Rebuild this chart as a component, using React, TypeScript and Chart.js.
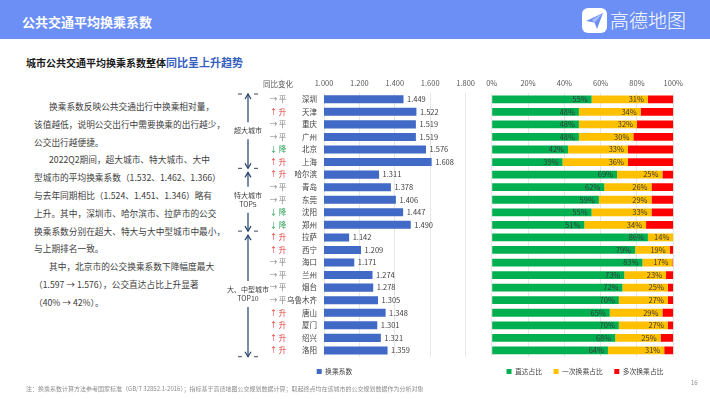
import React, { useEffect, useRef } from 'react';
import { Chart, registerables } from 'chart.js';

Chart.register(...registerables);

const FONT = '"Noto Sans CJK SC", "Noto Sans", sans-serif';
Chart.defaults.font.family = FONT;

// ---------- data ----------
const cities = ['深圳', '天津', '重庆', '广州', '北京', '上海', '哈尔滨', '青岛', '东莞', '沈阳', '郑州', '拉萨', '西宁', '海口', '兰州', '烟台', '乌鲁木齐', '唐山', '厦门', '绍兴', '洛阳'];
const changes = ['平', '升', '平', '平', '降', '升', '升', '平', '平', '降', '降', '升', '升', '平', '平', '平', '平', '升', '升', '升', '升'];
const coefficients = [1.449, 1.522, 1.519, 1.519, 1.576, 1.608, 1.311, 1.378, 1.406, 1.447, 1.490, 1.142, 1.209, 1.171, 1.274, 1.278, 1.305, 1.348, 1.301, 1.321, 1.359];
const directShare = [55, 48, 48, 48, 42, 39, 69, 62, 59, 55, 51, 86, 79, 83, 73, 72, 70, 65, 70, 68, 64];
const oneTransferShare = [31, 34, 32, 30, 33, 36, 25, 26, 29, 33, 34, 14, 19, 16.5, 23, 25, 27, 29, 27, 25, 31];
const multiTransferShare = [14, 18, 20, 22, 25, 25, 6, 12, 12, 12, 15, 0, 2, 0.5, 4, 3, 3, 6, 3, 7, 5];
const groupLabels = [['超大城市'], ['特大城市', 'TOP5'], ['大、中型城市', 'TOP10']];
const groupSizes = [6, 5, 10];
const coefTicks = { min: 1.0, max: 1.8, step: 0.2 };
const shareTicks = { min: 0, max: 100, step: 20 };
const seriesNames = ['换乘系数', '直达占比', '一次换乘占比', '多次换乘占比'];

const BLUE = '#4169C6';
const GREEN = '#00B050';
const YELLOW = '#FFC000';
const RED = '#FF0000';

const changeArrow: Record<string, string> = { '平': '→', '升': '↑', '降': '↓' };
const changeColor: Record<string, string> = { '平': '#808080', '升': '#E53935', '降': '#2EA35A' };

// ---------- plugins ----------
const coefPlugin = {
  id: 'coefAnnot',
  afterDraw(chart: any) {
    const { ctx, chartArea } = chart;
    const ys = chart.scales.y;
    ctx.save();
    const meta = chart.getDatasetMeta(0);
    ctx.font = `7.5px ${FONT}`;
    ctx.fillStyle = '#404040';
    ctx.textAlign = 'left';
    ctx.textBaseline = 'middle';
    meta.data.forEach((bar: any, i: number) => {
      ctx.fillText(coefficients[i].toFixed(3), bar.x + 3.5, bar.y);
    });
    const cx = chartArea.left - 46;
    ctx.textAlign = 'center';
    ctx.fillStyle = '#595959';
    ctx.fillText('同比变化', cx, chartArea.top - 9);
    changes.forEach((c, i) => {
      ctx.fillStyle = changeColor[c];
      ctx.fillText(changeArrow[c] + ' ' + c, cx, ys.getPixelForValue(i));
    });
    const bx = chartArea.left - 76;
    const half = (ys.getPixelForValue(1) - ys.getPixelForValue(0)) / 2;
    let start = 0;
    ctx.strokeStyle = '#24426A';
    ctx.lineWidth = 1.2;
    const boundaries: number[] = [];
    groupSizes.forEach((size, g) => {
      const top = ys.getPixelForValue(start) - half + (g === 0 ? 1 : 4);
      const bottom = ys.getPixelForValue(start + size - 1) + half;
      if (g === 0) boundaries.push(top);
      boundaries.push(bottom);
      const mid = (ys.getPixelForValue(start) - half + bottom) / 2;
      const lines = groupLabels[g];
      const lh = 9;
      const textTop = mid - (lines.length * lh) / 2;
      const textBottom = mid + (lines.length * lh) / 2;
      ctx.beginPath();
      ctx.moveTo(bx, top); ctx.lineTo(bx, textTop - 4);
      ctx.moveTo(bx, textBottom + 4); ctx.lineTo(bx, bottom);
      ctx.stroke();
      ctx.beginPath();
      ctx.moveTo(bx - 3, top + 5); ctx.lineTo(bx, top); ctx.lineTo(bx + 3, top + 5);
      ctx.moveTo(bx - 3, bottom - 5); ctx.lineTo(bx, bottom); ctx.lineTo(bx + 3, bottom - 5);
      ctx.stroke();
      ctx.fillStyle = '#404040';
      ctx.font = `7px ${FONT}`;
      lines.forEach((t, k) => ctx.fillText(t, bx, textTop + lh * k + lh / 2));
      start += size;
    });
    ctx.strokeStyle = '#3A4A60';
    ctx.lineWidth = 1;
    boundaries.forEach((yy) => {
      ctx.beginPath();
      ctx.moveTo(bx - 10, yy); ctx.lineTo(bx - 6, yy);
      ctx.moveTo(bx + 6, yy); ctx.lineTo(bx + 10, yy);
      ctx.stroke();
    });
    ctx.restore();
  },
};

const sharePlugin = {
  id: 'shareLabels',
  afterDatasetsDraw(chart: any) {
    const { ctx } = chart;
    ctx.save();
    ctx.font = `7.5px ${FONT}`;
    ctx.fillStyle = '#3A3A3A';
    ctx.textAlign = 'right';
    ctx.textBaseline = 'middle';
    [0, 1].forEach((di) => {
      const meta = chart.getDatasetMeta(di);
      const vals = chart.data.datasets[di].data as number[];
      meta.data.forEach((el: any, i: number) => {
        ctx.fillText(Math.round(vals[i]) + '%', el.x - 4, el.y);
      });
    });
    ctx.restore();
  },
};

const legendOpts = {
  position: 'bottom' as const,
  labels: { boxWidth: 5, boxHeight: 5, padding: 11.5, font: { size: 6.8 }, color: '#404040' },
};

const CANVAS_TOP = 74;
const CANVAS_H = 311;

function CoefChart() {
  const ref = useRef<HTMLCanvasElement>(null);
  useEffect(() => {
    const chart = new Chart(ref.current!, {
      type: 'bar',
      data: {
        labels: cities,
        datasets: [{ label: seriesNames[0], data: coefficients, backgroundColor: BLUE, barPercentage: 0.64, categoryPercentage: 1 }],
      },
      options: {
        indexAxis: 'y',
        animation: false,
        responsive: false,
        layout: { padding: { right: 9, left: 0, top: 0, bottom: 0 } },
        scales: {
          x: {
            position: 'top',
            min: coefTicks.min,
            max: coefTicks.max,
            ticks: { stepSize: coefTicks.step, callback: (v: any) => Number(v).toFixed(3), color: '#595959', font: { size: 7.5 }, padding: 5 },
            grid: { color: '#E6E6E6', drawTicks: false },
            border: { display: false },
            afterFit: (s: any) => { s.height = 19; },
          },
          y: {
            ticks: { color: '#404040', font: { size: 7.5 }, padding: 7 },
            grid: { display: false, drawTicks: false },
            border: { display: false },
            afterFit: (s: any) => { s.width = 126; },
          },
        },
        plugins: { legend: legendOpts, tooltip: { enabled: false } },
      },
      plugins: [coefPlugin],
    } as any);
    return () => chart.destroy();
  }, []);
  return <canvas ref={ref} width={282} height={CANVAS_H} style={{ position: 'absolute', left: 198, top: CANVAS_TOP, width: 282, height: CANVAS_H }} />;
}

function ShareChart() {
  const ref = useRef<HTMLCanvasElement>(null);
  useEffect(() => {
    const chart = new Chart(ref.current!, {
      type: 'bar',
      data: {
        labels: cities,
        datasets: [
          { label: seriesNames[1], data: directShare, backgroundColor: GREEN },
          { label: seriesNames[2], data: oneTransferShare, backgroundColor: YELLOW },
          { label: seriesNames[3], data: multiTransferShare, backgroundColor: RED },
        ].map((d) => ({ ...d, barPercentage: 0.62, categoryPercentage: 1 })),
      },
      options: {
        indexAxis: 'y',
        animation: false,
        responsive: false,
        layout: { padding: 0 },
        scales: {
          x: {
            position: 'top',
            stacked: true,
            min: shareTicks.min,
            max: shareTicks.max,
            ticks: { stepSize: shareTicks.step, callback: (v: any) => v + '%', color: '#595959', font: { size: 7.5 }, padding: 5 },
            grid: { color: '#E6E6E6', drawTicks: false },
            border: { display: false },
            afterFit: (s: any) => { s.height = 19; },
          },
          y: {
            stacked: true,
            ticks: { display: false },
            grid: { display: false, drawTicks: false },
            border: { display: false },
            afterFit: (s: any) => { s.width = 29.7; },
          },
          yRight: {
            type: 'linear',
            position: 'right',
            ticks: { display: false },
            grid: { display: false, drawTicks: false },
            border: { display: false },
            afterFit: (s: any) => { s.width = 34.7; },
          },
        },
        plugins: { legend: legendOpts, tooltip: { enabled: false } },
      },
      plugins: [sharePlugin],
    } as any);
    return () => chart.destroy();
  }, []);
  return <canvas ref={ref} width={246} height={CANVAS_H} style={{ position: 'absolute', left: 462, top: CANVAS_TOP, width: 246, height: CANVAS_H }} />;
}

const paragraph: { text: string; indent: boolean }[] = [
  { text: '换乘系数反映公共交通出行中换乘相对量，', indent: true },
  { text: '该值越低，说明公交出行中需要换乘的出行越少，', indent: false },
  { text: '公交出行越便捷。', indent: false },
  { text: '2022Q2期间，超大城市、特大城市、大中', indent: true },
  { text: '型城市的平均换乘系数（1.532、1.462、1.366）', indent: false },
  { text: '与去年同期相比（1.524、1.451、1.346）略有', indent: false },
  { text: '上升。其中，深圳市、哈尔滨市、拉萨市的公交', indent: false },
  { text: '换乘系数分别在超大、特大与大中型城市中最小，', indent: false },
  { text: '与上期排名一致。', indent: false },
  { text: '其中，北京市的公交换乘系数下降幅度最大', indent: true },
  { text: '（1.597 → 1.576），公交直达占比上升显著', indent: false },
  { text: '（40% → 42%）。', indent: false },
];

export default function App() {
  return (
    <div style={{ position: 'fixed', left: 0, top: 0, width: 710, height: 399, background: '#fff', overflow: 'hidden', fontFamily: FONT }}>
      <div style={{ position: 'absolute', left: 0, top: 0, width: 710, height: 39, background: '#6B8FF5' }} />
      <div style={{ position: 'absolute', left: 22, top: 12, fontSize: 13, lineHeight: '19px', fontWeight: 700, color: '#fff', whiteSpace: 'nowrap' }}>公共交通平均换乘系数</div>
      <svg style={{ position: 'absolute', left: 582, top: 8 }} width={25} height={25} viewBox="0 0 25 25">
        <rect x={0} y={0} width={25} height={25} rx={6} fill="#fff" />
        <path d="M4 13 L21 5 L15 21 L12.5 14.5 Z" fill="#6B8FF5" />
        <path d="M12.5 14.5 L21 5 L10 12 Z" fill="#A9C0FA" />
      </svg>
      <div style={{ position: 'absolute', left: 610, top: 7, fontSize: 19, lineHeight: '26px', fontWeight: 300, color: '#fff', whiteSpace: 'nowrap' }}>高德地图</div>
      <div style={{ position: 'absolute', left: 26, top: 52, lineHeight: '16px', whiteSpace: 'nowrap', fontWeight: 700 }}>
        <span style={{ fontSize: 10, color: '#1A1A1A' }}>城市公共交通平均换乘系数整体</span>
        <span style={{ fontSize: 11, color: '#3560C0' }}>同比呈上升趋势</span>
      </div>
      <div style={{ position: 'absolute', left: 34, top: 98, fontSize: 8.7, lineHeight: '17.8px', color: '#404040', whiteSpace: 'nowrap' }}>
        {paragraph.map((p, i) => (
          <div key={i} style={{ paddingLeft: p.indent ? 15 : 0 }}>{p.text}</div>
        ))}
      </div>
      <CoefChart />
      <ShareChart />
      <div style={{ position: 'absolute', left: 26, top: 385, fontSize: 6, lineHeight: '8px', color: '#8C8C8C', whiteSpace: 'nowrap' }}>
        注：换乘系数计算方法参考国家标准（GB/T 32852.1-2016）；指标基于高德地图公交规划数据计算；取起终点均在该城市的公交规划数据作为分析对象
      </div>
      <div style={{ position: 'absolute', left: 691, top: 379, fontSize: 6, lineHeight: '8px', color: '#8C8C8C' }}>16</div>
    </div>
  );
}
